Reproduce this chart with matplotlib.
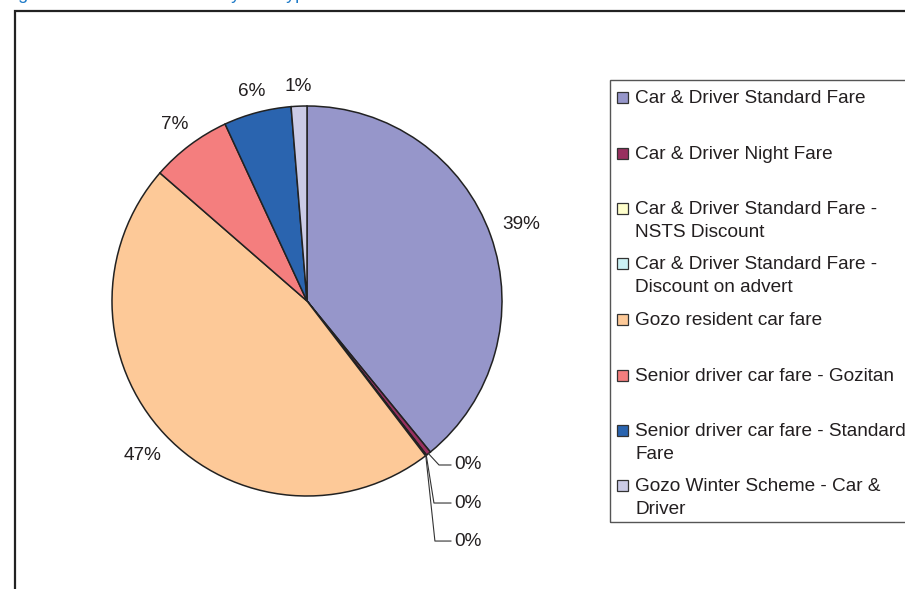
import matplotlib
matplotlib.use('Agg')
import matplotlib.pyplot as plt
from matplotlib.patches import Rectangle
import numpy as np

plt.rcParams.update({
    'font.family': ['Liberation Sans', 'DejaVu Sans'],
    'font.size': 13.7,
    'text.color': '#231F20',
})

# fare types and their share (%) of the total
fare_types = [
    'Car & Driver Standard Fare',
    'Car & Driver Night Fare',
    'Car & Driver Standard Fare -\nNSTS Discount',
    'Car & Driver Standard Fare -\nDiscount on advert',
    'Gozo resident car fare',
    'Senior driver car fare - Gozitan',
    'Senior driver car fare - Standard\nFare',
    'Gozo Winter Scheme - Car &\nDriver',
]
shares = [39.1, 0.4, 0.05, 0.05, 46.8, 6.7, 5.6, 1.3]
colors = ['#9696CA', '#98305F', '#FFFFCC', '#CCF2F5', '#FDC998',
          '#F47E7E', '#2A64AF', '#CBCBE6']

W, H = 905, 589
fig = plt.figure(figsize=(W / 100, H / 100), dpi=100)

def fx(px):
    return px / W

def fy(py):
    return 1 - py / H

# outer chart frame (runs off the right and bottom edge)
fig.add_artist(Rectangle((fx(15), fy(700)), fx(1000), 689 / H,
                         transform=fig.transFigure, fill=False,
                         edgecolor='#222222', linewidth=1.6))

# caption above the frame, mostly cut off
fig.text(fx(3), 1 + 1 / H, 'Figure 4.9: Revenue share by fare type', color='#1F7BC8',
         fontsize=13, va='baseline', ha='left')

# pie: centre (307, 301) px, radius 195 px
cx, cy, R = 307, 301, 195
ax = fig.add_axes([fx(cx - R), fy(cy + R), 2 * R / W, 2 * R / H])
wedges, _ = ax.pie(shares, colors=colors, startangle=90, counterclock=False,
                   wedgeprops=dict(edgecolor='#222222', linewidth=1.1))
ax.set_xlim(-1, 1)
ax.set_ylim(-1, 1)
ax.set_aspect('auto')
ax.axis('off')

# percentage labels
zero_row = 0
zero_y = [-0.841, -1.036, -1.231]
zero_elbow = [0.677, 0.651, 0.656]
for w, v in zip(wedges, shares):
    mid = np.deg2rad((w.theta1 + w.theta2) / 2)
    label = f'{int(v + 0.5)}%'
    if int(v + 0.5) == 0:
        sx, sy = np.cos(mid), np.sin(mid)
        ty = zero_y[zero_row]
        ex = zero_elbow[zero_row]
        ax.plot([sx, ex, 0.738], [sy, ty, ty], color='#333333', lw=0.8,
                clip_on=False)
        ax.text(0.755, ty, label, ha='left', va='center', clip_on=False)
        zero_row += 1
    else:
        # keep the label box a fixed gap outside the rim
        hw, hh = 20 if len(label) > 2 else 13, 8
        d = (R + 11 + abs(np.cos(mid)) * hw + abs(np.sin(mid)) * hh) / R
        ax.text(d * np.cos(mid), d * np.sin(mid), label, ha='center',
                va='center', clip_on=False)

# legend box
fig.add_artist(Rectangle((fx(610), fy(522)), fx(400), 442 / H,
                         transform=fig.transFigure, fill=False,
                         edgecolor='#555555', linewidth=1.0))
row_y = [96, 152, 207, 262, 318, 374, 429, 484]
for name, c, y in zip(fare_types, colors, row_y):
    fig.add_artist(Rectangle((fx(617), fy(y + 7)), fx(11), 11 / H,
                             transform=fig.transFigure, facecolor=c,
                             edgecolor='#333333', linewidth=0.9))
    for i, line in enumerate(name.split('\n')):
        fig.text(fx(635), fy(y + 7 + 23 * i), line, ha='left', va='baseline')

fig.savefig('out.png', dpi=100, facecolor='white')
